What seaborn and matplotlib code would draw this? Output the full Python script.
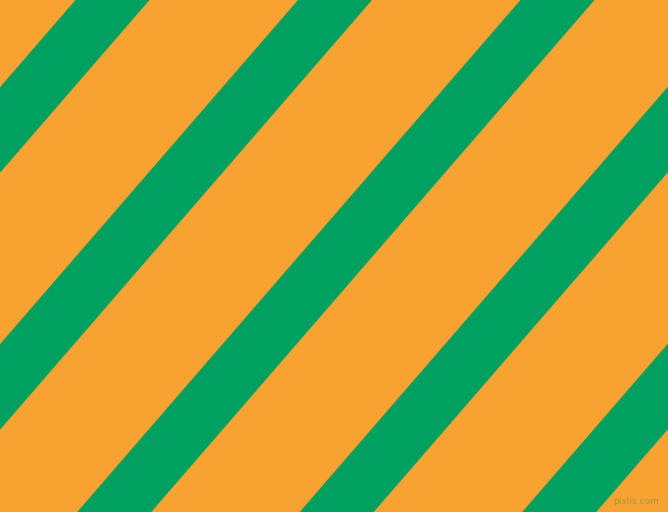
import numpy as np
import matplotlib
matplotlib.use("Agg")
import matplotlib.pyplot as plt
import seaborn as sns

# Stripe data (x position of each stripe's left edge along the top edge, px)
stripe_starts = [-147.0, 75.5, 298.0, 520.5, 743.0, 965.5]
stripe_width = 74.0
stripe_slope = 1.155  # dy/dx of the stripe edges (downwards to the left)

background_color = "#F8A231"
stripe_color = "#00A060"

sns.set_style("white")

fig = plt.figure(figsize=(6.68, 5.12), dpi=100)
ax = fig.add_axes([0, 0, 1, 1])
ax.set_facecolor(background_color)
fig.patch.set_facecolor(background_color)

xs = np.linspace(-50, 720, 200)
for x0 in stripe_starts:
    y_left = stripe_slope * (x0 - xs)
    y_right = stripe_slope * (x0 + stripe_width - xs)
    ax.fill_between(xs, y_left, y_right, color=stripe_color, linewidth=0)

ax.set_xlim(0, 668)
ax.set_ylim(512, 0)
ax.axis("off")

ax.text(659, 502, "pixlis.com", fontsize=6.5, color="#A8963A", alpha=0.95,
        ha="right", va="center", family="DejaVu Sans")

fig.savefig("out.png", dpi=100, facecolor=background_color)
